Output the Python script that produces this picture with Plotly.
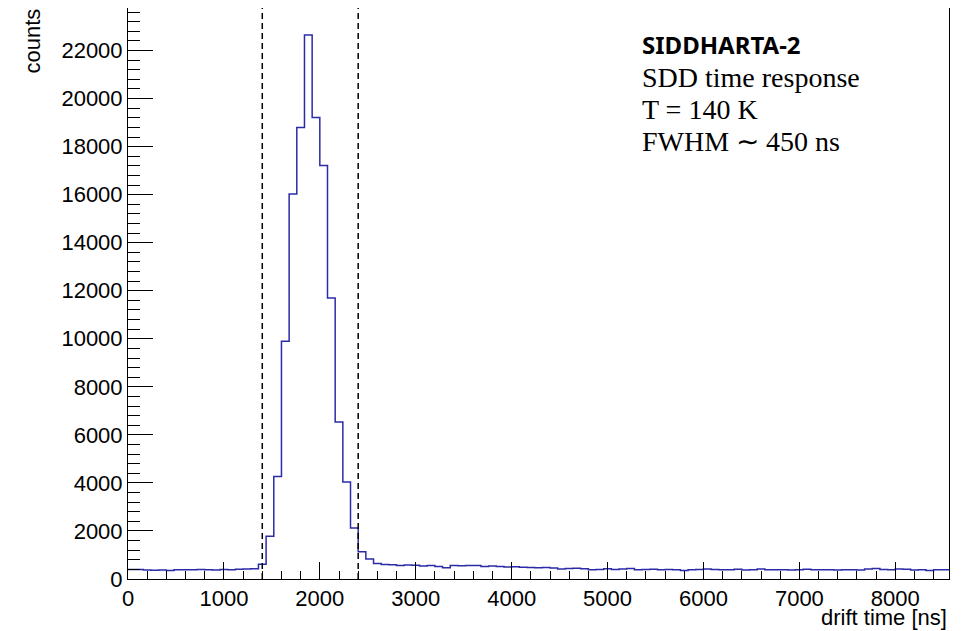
import numpy as np
import plotly.graph_objects as go

# histogram of SDD drift times, 80 ns bins from 0 to 8560 ns
bin_width = 80
counts = [
    400, 395, 370, 365, 375, 350, 380, 385, 380, 395,
    380, 375, 400, 385, 410, 420, 430, 610, 1780, 4270,
    9900, 16030, 18800, 22650, 19210, 17210, 11700, 6540, 4040, 2120,
    1130, 830, 650, 600, 590, 560, 580, 570, 540, 560,
    520, 470, 560, 550, 560, 560, 520, 540, 520, 500,
    510, 490, 480, 470, 480, 460, 420, 440, 450, 430,
    380, 400, 430, 400, 420, 440, 390, 400, 410, 390,
    400, 380, 350, 390, 400, 420, 400, 380, 390, 410,
    370, 390, 420, 390, 380, 390, 370, 380, 410, 390,
    380, 390, 370, 380, 390, 370, 420, 440, 400, 390,
    420, 410, 370, 380, 350, 380, 390,
]
cut_lines = [1400, 2400]  # time window (dashed)

x_range = [0, 8560]
y_range = [0, 23770]

label_lines = ["SDD time response", "T = 140 K", "FWHM \u223c 450 ns"]

edges = np.arange(len(counts) + 1) * bin_width
step_y = counts + [counts[-1]]

fig = go.Figure()
fig.add_trace(go.Scatter(
    x=edges, y=step_y,
    mode="lines",
    line=dict(color="#2b2ba8", width=1.5, shape="hv"),
    hoverinfo="skip",
))

for xc in cut_lines:
    fig.add_shape(type="line", x0=xc, x1=xc, y0=0, y1=1, xref="x", yref="paper",
                  line=dict(color="black", width=1.5, dash="6px,4px"))

tick_font = dict(family="Liberation Sans, Arial, sans-serif", size=22, color="black")

fig.update_xaxes(
    range=x_range, dtick=1000, tick0=0, tickformat="d",
    ticks="inside", ticklen=17, tickwidth=1, tickcolor="black",
    minor=dict(dtick=200, ticks="inside", ticklen=8, tickcolor="black"),
    showline=True, linecolor="black", linewidth=1, mirror=True,
    showgrid=False, zeroline=False, tickfont=tick_font, automargin=False,
)
fig.update_yaxes(
    range=y_range, dtick=2000, tick0=0, tickformat="d",
    ticks="inside", ticklen=25, tickwidth=1, tickcolor="black",
    minor=dict(dtick=400, ticks="inside", ticklen=12, tickcolor="black"),
    showline=True, linecolor="black", linewidth=1, mirror=True,
    showgrid=False, zeroline=False, tickfont=tick_font, automargin=False,
)

# ROOT-style axis titles
fig.add_annotation(text="counts", xref="paper", yref="paper", x=-0.116, y=1.003,
                   xanchor="center", yanchor="top", textangle=-90, showarrow=False,
                   font=tick_font)
fig.add_annotation(text="drift time [ns]", xref="paper", yref="paper", x=1.0, y=-0.067,
                   xanchor="right", yanchor="middle", showarrow=False, font=tick_font)

# info box
fig.add_annotation(text="<b>SIDDHARTA-2</b>", xref="paper", yref="paper", x=0.624, y=0.9355,
                   xanchor="left", yanchor="middle", showarrow=False,
                   font=dict(family="Noto Sans, sans-serif", size=24, color="black"))
for i, t in enumerate(label_lines):
    fig.add_annotation(text=t, xref="paper", yref="paper", x=0.624, y=0.8776 - i * 0.0561,
                       xanchor="left", yanchor="middle", showarrow=False,
                       font=dict(family="Liberation Serif, serif", size=28, color="black"))

# page body has an 8px margin, so size the figure to fit the window
fig.update_layout(
    width=963, height=623,
    margin=dict(l=120, r=22, t=0, b=52),
    plot_bgcolor="white", paper_bgcolor="white",
    showlegend=False,
)

fig.write_html("out.html")
